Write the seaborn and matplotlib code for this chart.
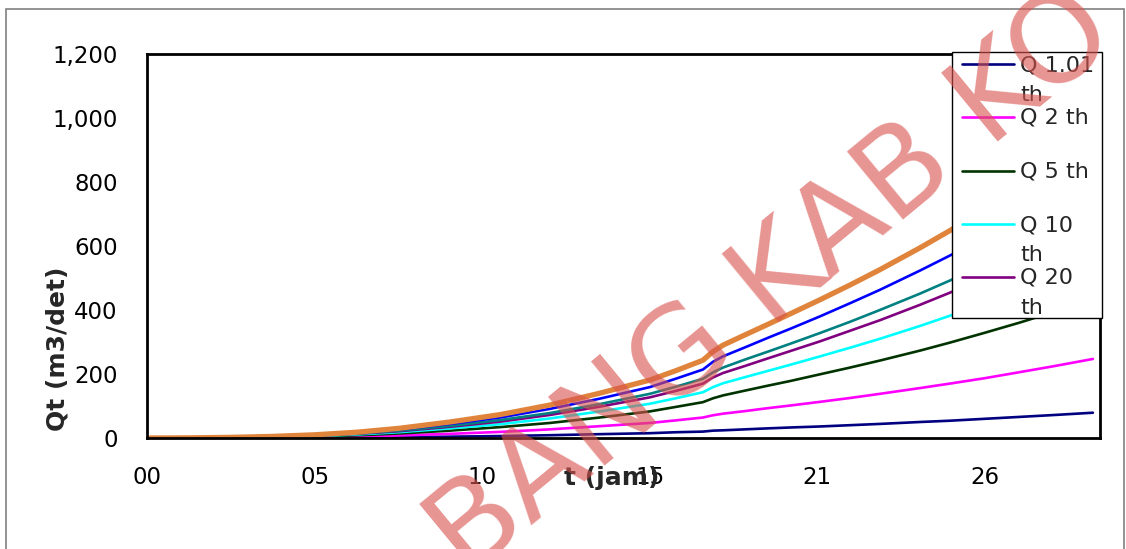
import matplotlib
matplotlib.use("Agg")
import matplotlib.pyplot as plt
import seaborn as sns
import pandas as pd
from matplotlib.patches import Rectangle
from matplotlib.lines import Line2D

# ---------------- data ----------------
t_hours = [0.1, 1.3, 2.6, 3.9, 5.2, 6.5, 7.8, 9.4, 10.95, 12.5, 14.05, 15.6, 16.4,
           17.25, 17.56, 17.87, 18.55, 19.24, 20.0, 20.88, 21.81, 22.74, 23.98,
           24.91, 26.0, 27.09, 28.17, 29.35]

q_1_01 = [0, 0, 0.2, 0.4, 0.8, 1.5, 2.5, 4.2, 6.1, 8.7, 12, 15, 18, 20, 23, 24,
          27, 30, 33, 36, 40, 44, 50, 54, 60, 66, 72, 79]
q_2 = [0, 0.1, 0.5, 1.3, 2.6, 4.7, 7.9, 13, 19, 27, 37, 47, 55, 64, 71, 76, 84,
       93, 102, 113, 125, 138, 156, 170, 187, 206, 225, 247]
q_5 = [0, 0.2, 0.9, 2.3, 4.6, 8.3, 14, 23, 34, 47, 64, 83, 97, 112, 124, 133,
       148, 163, 179, 199, 220, 242, 273, 298, 329, 361, 395, 433]
q_10 = [0, 0.3, 1.2, 3, 5.9, 11, 18, 30, 43, 61, 83, 107, 124, 143, 159, 171,
        190, 209, 230, 255, 282, 310, 350, 382, 422, 463, 506, 556]
q_20 = [0, 0.4, 1.4, 3.5, 7, 13, 21, 35, 51, 72, 98, 127, 147, 170, 189, 203,
        225, 248, 273, 302, 335, 368, 416, 454, 500, 550, 601, 659]
q_50 = [0, 0.4, 1.5, 3.8, 7.6, 14, 23, 38, 56, 78, 106, 138, 160, 185, 205, 220,
        245, 269, 296, 328, 363, 400, 451, 492, 543, 597, 652, 716]
q_100 = [0, 0.4, 1.8, 4.4, 8.8, 16, 26, 44, 64, 91, 123, 159, 185, 214, 238, 255,
         283, 312, 343, 380, 421, 463, 523, 570, 629, 691, 755, 829]
q_1000 = [0, 0.5, 2, 5, 10, 18, 30, 50, 73, 103, 140, 181, 210, 243, 270, 290,
          322, 354, 390, 432, 478, 526, 594, 648, 715, 785, 858, 942]

series_names = ["Q 1.01 th", "Q 2 th", "Q 5 th", "Q 10 th", "Q 20 th",
                "Q 50 th", "Q 100 th", "Q 1000 th"]
series_values = [q_1_01, q_2, q_5, q_10, q_20, q_50, q_100, q_1000]
legend_labels = ["Q 1.01\nth", "Q 2 th", "Q 5 th", "Q 10\nth", "Q 20\nth"]

x_tick_pos = [0, 5.2, 10.4, 15.6, 20.8, 26.0]
x_tick_labels = ["00", "05", "10", "15", "21", "26"]
y_ticks = [0, 200, 400, 600, 800, 1000, 1200]

# ---------------- style ----------------
colors = ["#000080", "#ff00ff", "#003300", "#00ffff", "#800080",
          "#008080", "#0000ff", "#e0843c"]
widths = [1.9, 1.9, 1.9, 1.9, 1.9, 1.9, 1.9, 3.8]

sns.set_theme(style="white")
plt.rcParams["font.family"] = ["DejaVu Sans"]

W, H = 1126, 549
fig = plt.figure(figsize=(W / 100, H / 100), dpi=100)

def fx(px):
    return px / W

def fy(py):
    return 1 - py / H

# outer chart border
fig.add_artist(Rectangle((fx(6), -0.05), fx(1124) - fx(6), fy(9) + 0.05,
                         transform=fig.transFigure, fill=False,
                         edgecolor="#808080", lw=1.2, zorder=0))

ax = fig.add_axes([fx(147), fy(438), fx(1100) - fx(147), fy(54) - fy(438)])

rows = []
for name, vals in zip(series_names, series_values):
    for tt, v in zip(t_hours, vals):
        rows.append({"t": tt, "Q": v, "series": name})
df = pd.DataFrame(rows)

for name, c, w in zip(series_names, colors, widths):
    sns.lineplot(data=df[df["series"] == name], x="t", y="Q", color=c, lw=w,
                 ax=ax, legend=False, errorbar=None)

ax.set_xlim(0, 29.57)
ax.set_ylim(0, 1200)
ax.set_xticks(x_tick_pos)
ax.set_xticklabels(x_tick_labels)
ax.set_yticks(y_ticks)
ax.set_yticklabels([f"{v:,}" for v in y_ticks])
ax.tick_params(axis="both", labelsize=16.5, colors="#000000",
               direction="out", length=7, width=1, color="#404040")
ax.tick_params(axis="y", pad=14)
ax.tick_params(axis="x", pad=13)
ax.set_xlabel("")
ax.set_ylabel("")
for s in ax.spines.values():
    s.set_visible(True)
    s.set_color("black")
    s.set_linewidth(2)
ax.grid(False)

# axis titles
fig.text(fx(612), fy(478), "t (jam)", fontsize=18, fontweight="bold",
         ha="center", va="center", zorder=6)
fig.text(fx(58), fy(349), "Qt (m3/det)", fontsize=18, fontweight="bold",
         rotation=90, ha="center", va="center")

# legend (first five series, as in the original)
fig.add_artist(Rectangle((fx(952), fy(318)), fx(1102) - fx(952), fy(52) - fy(318),
                         transform=fig.transFigure, facecolor="white",
                         edgecolor="black", lw=1.0, zorder=8))
leg_y = [64, 117, 171, 224, 277]
for lab, c, yy in zip(legend_labels, colors[:5], leg_y):
    fig.add_artist(Line2D([fx(962), fx(1014)], [fy(yy), fy(yy)],
                          transform=fig.transFigure, color=c, lw=1.9, zorder=9))
    parts = lab.split("\n")
    fig.text(fx(1020), fy(yy + 1), parts[0], fontsize=16, ha="left",
             va="center", zorder=9)
    if len(parts) > 1:
        fig.text(fx(1020), fy(yy + 31), parts[1], fontsize=16, ha="left",
                 va="center", zorder=9)

# watermark (semi-transparent, drawn on top)
fig.text(fx(772), fy(284), "BANG KAB KO", fontsize=88,
         family=["DejaVu Sans"], color="#d9534f", alpha=0.62,
         rotation=39.5, rotation_mode="anchor", ha="center",
         va="center", zorder=10)

fig.savefig("out.png", dpi=100)
